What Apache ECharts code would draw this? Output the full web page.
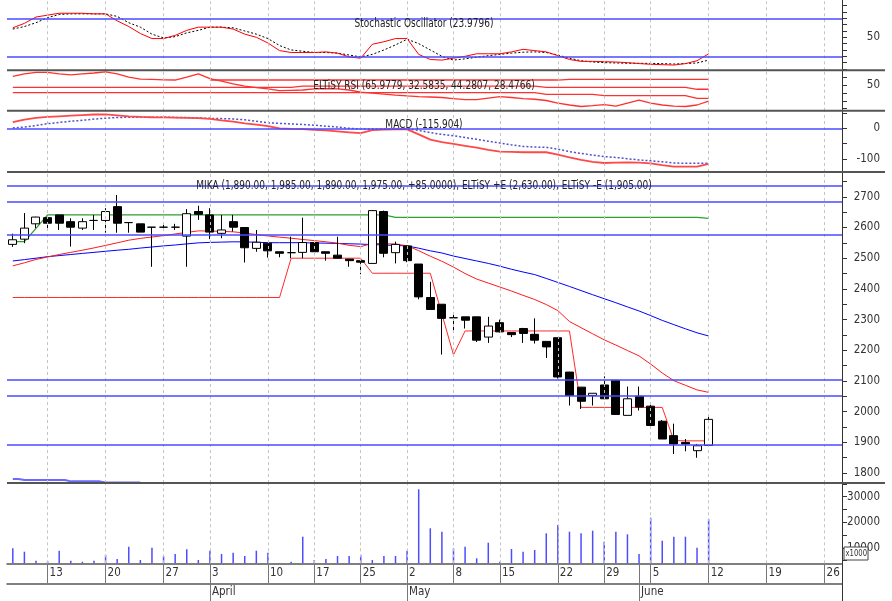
<!DOCTYPE html>
<html><head><meta charset="utf-8">
<script src="https://cdn.jsdelivr.net/npm/echarts@6/dist/echarts.min.js"></script>
<style>html,body{margin:0;padding:0;background:#fff}#c{width:892px;height:601px}</style>
</head><body><div id="c"></div><script>
// ---------------- DATA ----------------
const tradingDays = [
 '2017-03-08','2017-03-09','2017-03-10','2017-03-13','2017-03-14','2017-03-15','2017-03-16','2017-03-17',
 '2017-03-20','2017-03-21','2017-03-22','2017-03-23','2017-03-24','2017-03-27','2017-03-29','2017-03-30','2017-03-31',
 '2017-04-03','2017-04-04','2017-04-05','2017-04-06','2017-04-07','2017-04-10','2017-04-11','2017-04-12','2017-04-13',
 '2017-04-17','2017-04-18','2017-04-20','2017-04-21','2017-04-25','2017-04-26','2017-04-27','2017-04-28',
 '2017-05-02','2017-05-03','2017-05-04','2017-05-05','2017-05-08','2017-05-09','2017-05-10','2017-05-12',
 '2017-05-15','2017-05-16','2017-05-17','2017-05-18','2017-05-19','2017-05-22','2017-05-23','2017-05-24','2017-05-26',
 '2017-05-29','2017-05-30','2017-05-31','2017-06-02','2017-06-05','2017-06-06','2017-06-07','2017-06-08','2017-06-09','2017-06-12'
];
const futureDays = ['2017-06-13','2017-06-14','2017-06-15','2017-06-16','2017-06-19','2017-06-20','2017-06-21','2017-06-22','2017-06-23','2017-06-26','2017-06-27'];
const monthNames = ['January','February','March','April','May','June','July','August','September','October','November','December'];

const openP  = [2545,2562,2612,2632,2641,2619,2598,2623,2623,2668,2616,2612,2601,2601,2601,2572,2652,2641,2581,2619,2600,2532,2549,2521,2518,2519,2551,2521,2510,2497,2492,2483,2652,2518,2540,2481,2372,2350,2306,2309,2309,2243,2290,2258,2271,2252,2229,2241,2129,2080,2053,2087,2102,1988,2050,2018,1969,1922,1900,1873,1890];
const closeP = [2560,2598,2634,2614,2614,2601,2619,2623,2652,2614,2616,2585,2601,2601,2601,2645,2643,2585,2592,2601,2534,2552,2524,2516,2518,2551,2521,2516,2500,2492,2487,2655,2516,2545,2492,2374,2333,2304,2306,2298,2233,2279,2260,2251,2255,2233,2211,2113,2053,2034,2060,2042,1991,2042,2015,1955,1911,1895,1895,1889,1975];
const lowP   = [2537,2549,2598,2598,2592,2538,2592,2592,2583,2583,2583,2585,2472,2592,2592,2472,2625,2562,2565,2587,2486,2521,2502,2503,2500,2500,2510,2492,2500,2472,2448,2483,2503,2483,2487,2366,2333,2186,2260,2271,2227,2224,2258,2243,2224,2222,2175,2108,2020,2009,2020,2042,1991,1988,2004,1955,1911,1862,1871,1850,1890];
const highP  = [2580,2647,2635,2635,2641,2630,2630,2641,2663,2706,2617,2612,2601,2612,2612,2660,2671,2663,2641,2641,2600,2592,2549,2521,2570,2632,2551,2521,2570,2497,2492,2657,2655,2554,2540,2481,2423,2350,2322,2309,2309,2309,2300,2258,2273,2304,2229,2241,2130,2080,2060,2115,2102,2082,2082,2031,1973,1961,1911,1895,1985];

const maLong  = [2491,2495.4,2500,2505,2508.5,2512,2515.6,2519,2522.6,2526,2529,2533,2536.5,2540,2543,2546.6,2550,2551.5,2552.4,2553.4,2553,2552,2550.5,2550.5,2550.5,2550.5,2549.5,2549,2548,2547,2546,2544.3,2543,2541.5,2540,2532.6,2524,2517,2507,2499,2491,2483,2474,2464,2455,2446.6,2434,2421,2408,2394.5,2381,2368,2355,2341.4,2328,2313,2297.4,2283.6,2270,2257,2246.6];
const maShort = [2475,2485,2496,2504,2512,2519,2526,2533.5,2541.7,2550,2558.6,2564.5,2569,2573.6,2579,2584,2589,2588.6,2587.3,2586,2582,2577,2572.3,2568.7,2565,2561,2557.3,2553.4,2549,2542,2537.8,2548,2547,2546,2540.6,2524.4,2506.5,2490,2471,2450,2432,2419,2406,2393,2379,2365.5,2349,2329.3,2293.7,2273.6,2253.7,2234,2217,2199.3,2181.8,2155,2126,2101,2086,2071,2063];
const eltisyUpper = [2554,2554,2597,2641,2641,2641,2641,2641,2641,2641,2641,2641,2641,2641,2641,2641,2641,2641,2641,2641,2641,2641,2641,2641,2641,2641,2641,2641,2641,2641,2641,2641,2641,2633,2633,2633,2633,2633,2633,2633,2633,2633,2633,2633,2633,2633,2633,2633,2633,2633,2633,2633,2633,2633,2633,2633,2633,2633,2633,2633,2630];
const eltisyLower = [2372,2372,2372,2372,2372,2372,2372,2372,2372,2372,2372,2372,2372,2372,2372,2372,2372,2372,2372,2372,2372,2372,2372,2372,2500,2500,2500,2500,2500,2500,2500,2451,2451,2451,2451,2451,2451,2318,2185,2263,2263,2263,2263,2263,2263,2263,2263,2263,2263,2014,2014,2014,2014,2014,2014,2014,2014,1906,1905,1905,1905];
const lowBand = [1781,1777.5,1777.5,1777.5,1777.5,1773,1773,1773,1769,1769,1769,1769];
const priceLevels = [2737,2685,2576,2104,2053,1892];

const stochK = [65,72,82,85,88,88,88,87,87,76,67,56,48,48,53,61,66,66,66,63,55,50,41,29,26,26,26,27,25,19,17,39,43,48,48,23,15,14,17,20,24,24,24,27,31,29,27,21,15,12,12,11.5,11,10,8.5,7.4,6.8,6.2,8.5,13,23.98];
const stochD = [63,67,73,81,86,87,87,87,87,83,73,66,55,49,51,57,61,66,66,65,60,55,48,37,30,28,26,26,25,22,19,23,30,38,47,40,30,20,14,16,18.5,21,23,25,26.5,27,26,22,17,13,11,10,9.5,9,9,8.8,8.5,7.8,8.5,9.5,14];
const stochLevels = [80,20];

const rsi1 = [61,64,66,66,64,62.7,64,65.2,66.5,64,60,57.5,57,56.5,56.3,60,64,58,55,51.3,48.7,46.6,45,42.8,43.3,43.7,45,45.5,45.2,43.7,41,39.7,38.5,37.3,36.3,35.4,34.8,34.2,32.9,31.6,31.6,33.5,35.2,34.2,32.9,32,30.4,27.2,24.7,22.8,24,25.3,23.4,27.2,31,27.2,24.7,23.4,22.8,24.7,29.7];
const rsi2 = [null,null,null,null,null,null,null,null,null,null,null,null,null,null,null,null,null,56.3,56.3,56.3,56.3,56.3,56.3,56.3,56.3,56.3,56.3,56.3,56.3,56.3,56.3,56.3,56.3,56.3,56.3,56.3,56.3,56.3,56.3,56.3,56.3,56.3,56.3,56.3,56.3,56.3,56.3,56.3,57.2,57.2,57.2,57.2,57.2,57.2,57.2,57.2,57.2,57.2,57.2,57.2,57.2];
const rsi3 = [47.1,47.1,47.1,47.1,47.1,47.1,47.1,47.1,47.1,47.1,47.1,47.1,47.1,47.1,47.1,47.1,47.1,47.1,47.1,47.1,47.1,47.1,47.1,47.1,47.1,48.7,48.7,48.7,48.7,48.7,48.7,48.7,48.7,48.7,48.7,48.7,48.7,48.7,48.7,48.7,48.7,48.7,48.7,48.7,48.7,48.7,47.1,47.1,47.1,47.1,47.1,47.1,47.1,47.1,47.1,47.1,47.1,47.1,47.1,44.6,44.6];
const rsi4 = [40.3,40.3,40.3,40.3,40.3,40.3,40.3,40.3,40.3,40.3,40.3,40.3,40.3,40.3,40.3,40.3,40.3,40.3,40.3,40.3,40.3,40.3,40.3,40.3,40.3,40.3,40.3,40.3,40.3,40.3,40.3,40.3,40.3,40.3,40.3,40.3,40.3,40.3,40.3,40.3,40.3,40.3,40.3,40.3,40.3,40.3,38.2,38.2,38.2,38.2,38.2,36.5,36.5,36.5,36.5,36.5,36.5,36.5,36.5,33.2,33.2];

const macd   = [20,28,34,37,39,41,43,45,45,42,39,37,36,35.5,35,34,33,31,26,21.5,16,12,7,0,-2,-3,-5,-7,-10,-13,-16,-6,-4,-3.5,-3.3,-20,-37,-45,-51,-57,-63,-70,-76,-77,-78,-78,-78,-86,-95,-103,-109,-113,-112,-111,-112,-114,-120,-125,-125,-125,-115.9];
const signal = [1,4,9,15,19,23,26,30,33,35,36,36,36,36,35.5,35,33.5,32.5,31.5,30.5,28,23,18,16,14,12.5,10,7,4,0,-2,-2.3,-2.3,-2.3,-2.3,-7,-14,-20,-24,-30,-36,-42,-48,-54,-59,-61,-62,-68,-76,-82,-87,-92,-95,-99,-103,-106,-109,-113,-114,-114,-114];

const volume = [9840,8520,5000,4880,8900,5000,4600,5000,7230,5660,10470,5270,10080,6840,7620,9450,5270,8900,7620,8130,6840,8900,8130,3000,4600,14380,5270,5660,6840,6840,7230,5270,6840,6840,8900,32900,17660,16330,9840,10470,5940,12030,4600,9570,8520,9180,15700,18950,16330,15700,16720,12420,16330,15310,7620,21800,12810,14380,14380,10080,21290];

const titles = {
  stoch: 'Stochastic Oscillator (23.9796)',
  rsi: 'ELTiSY RSI (65.9779, 32.5835, 44.2807, 28.4766)',
  macd: 'MACD (-115.904)',
  price: 'MIKA (1,890.00, 1,985.00, 1,890.00, 1,975.00, +85.0000), ELTiSY +E (2,630.00), ELTiSY -E (1,905.00)'
};

// ---------------- LAYOUT ----------------
const FONT = '"Liberation Sans Narrow","Arial Narrow","DejaVu Sans Condensed",sans-serif';
const categories = tradingDays.concat(futureDays);
const DAY = 86400000;
const parse = s => { const [y,m,d] = s.split('-').map(Number); return Date.UTC(y,m-1,d); };
const weekKey = t => t - ((new Date(t).getUTCDay() + 6) % 7) * DAY;
const weekStart = categories.map((s,i) => i > 0 && weekKey(parse(s)) !== weekKey(parse(categories[i-1])));
const monthStart = categories.map((s,i) => i > 0 && s.slice(5,7) !== categories[i-1].slice(5,7));

const L = 7, R = 50;
const panels = [ // [top, bottom] in px
  [0, 70.3], [70.3, 110.7], [110.7, 172], [172, 483], [483, 563.3]
];
const yRanges = [[-2.1,108.9],[17.5,68.6],[-142.3,57.3],[1767.7,2780.8],[3984,35350]];
const yTicks = [
  [0,10,20,30,40,50,60,70,80,90,100],
  [20,30,40,50,60],
  [-100,-50,0,50],
  [1800,1850,1900,1950,2000,2050,2100,2150,2200,2250,2300,2350,2400,2450,2500,2550,2600,2650,2700,2750],
  [5000,10000,15000,20000,25000,30000,35000]
];
const yLabels = [[50],[50],[-100,0],[1800,1900,2000,2100,2200,2300,2400,2500,2600,2700],[10000,20000,30000]];

const grids = panels.map(p => ({left:L, right:R, top:p[0], height:p[1]-p[0], show:false}));
const xAxes = panels.map((p,i) => ({
  type:'category', gridIndex:i, data:categories, boundaryGap:true,
  show: i === 4,
  axisLine:{show:true, onZero:false, lineStyle:{color:'#555', width:1.5}},
  axisTick:{show:true, alignWithLabel:true, length:20, interval:(idx)=>weekStart[idx]||monthStart[idx], lineStyle:{color:'#777'}},
  axisLabel:{show:true, interval:(idx)=>weekStart[idx], formatter:(v)=>String(parseInt(v.slice(8),10)),
    align:'left', padding:[0,0,0,2], margin:4, color:'#333', fontSize:11.5, fontFamily:FONT},
  splitLine:{show:false}
}));
xAxes.push({
  type:'category', gridIndex:4, data:categories, boundaryGap:true, position:'bottom', offset:20,
  axisLine:{show:true, onZero:false, lineStyle:{color:'#555', width:1.5}},
  axisTick:{show:true, alignWithLabel:true, length:18, interval:(idx)=>monthStart[idx], lineStyle:{color:'#777'}},
  axisLabel:{show:true, interval:(idx)=>monthStart[idx], formatter:(v)=>monthNames[parseInt(v.slice(5,7),10)-1],
    align:'left', padding:[0,0,0,2], margin:3, color:'#333', fontSize:11.5, fontFamily:FONT},
  splitLine:{show:false}
});
const yAxes = panels.map((p,i) => ({
  type:'value', gridIndex:i, position:'right', min:yRanges[i][0], max:yRanges[i][1], scale:true,
  axisLine:{show:true, lineStyle:{color:'#333', width:1}},
  axisTick:{show:true, customValues:yTicks[i], length:5, lineStyle:{color:'#333'}},
  axisLabel:{show:true, customValues:yLabels[i], formatter:(v)=>String(v), align:'right', margin:38,
    color:'#333', fontSize:11.5, fontFamily:FONT},
  splitLine:{show:false}
}));

const vlines = categories.map((c,i)=>i).filter(i=>weekStart[i]).map(i => ({xAxis:i}));
function decor(gi, hlines){
  const data = vlines.map(d => ({xAxis:d.xAxis, lineStyle:{color:'#c4c4c4', type:[3,3], width:1}}));
  (hlines||[]).forEach(v => data.push({yAxis:v, lineStyle:{color:'#4a4aff', type:'solid', width:1.6}}));
  return {type:'line', xAxisIndex:gi, yAxisIndex:gi, data:[], z:1, silent:true,
    markLine:{silent:true, symbol:['none','none'], label:{show:false}, animation:false, data}};
}
function line(gi, data, color, width, type, extra){
  return Object.assign({type:'line', xAxisIndex:gi, yAxisIndex:gi, data, symbol:'none', showSymbol:false,
    silent:true, z:3, lineStyle:{color, width, type:type||'solid'}}, extra||{});
}

const series = [
  decor(0, stochLevels),
  line(0, stochD, '#000', 1, [2,2]),
  line(0, stochK, '#ff0000', 1),
  decor(1),
  line(1, rsi4, '#ff3030', 1.3),
  line(1, rsi3, '#ff3030', 1.3),
  line(1, rsi2, '#ff3030', 1.3),
  line(1, rsi1, '#ff3030', 1.3),
  decor(2, [0]),
  line(2, signal, '#5050c8', 1.5, [2,2]),
  line(2, macd, '#ff4848', 1.8),
  decor(3, priceLevels),
  line(3, lowBand, '#6a6aff', 2, 'solid', {step:'middle'}),
  line(3, maLong, '#0000ff', 1),
  line(3, maShort, '#ff1a1a', 1),
  line(3, eltisyUpper, '#2ea02e', 1.3),
  line(3, eltisyLower, '#ff2a2a', 1),
  {type:'candlestick', xAxisIndex:3, yAxisIndex:3, barWidth:8.5, z:4, silent:true,
    data: tradingDays.map((d,i)=>[openP[i], closeP[i], lowP[i], highP[i]]),
    itemStyle:{color:'#ffffff', color0:'#000000', borderColor:'#000000', borderColor0:'#000000', borderWidth:1}},
  decor(4),
  {type:'bar', xAxisIndex:4, yAxisIndex:4, data:volume, barWidth:1.5, z:3, silent:true,
    itemStyle:{color:'#4d4dff'}}
];

const graphic = [];
[[panels[0][1]],[panels[1][1]],[panels[2][1]],[panels[3][1]]].forEach(([y]) => {
  graphic.push({type:'line', z:50, shape:{x1:L, y1:y, x2:885, y2:y}, style:{stroke:'#555', lineWidth:2}});
});
graphic.push({type:'line', z:50, shape:{x1:892-R+0.5, y1:panels[4][1], x2:892-R+0.5, y2:601}, style:{stroke:'#333', lineWidth:1}});
const tstyle = (text) => ({text, font:'12.5px ' + FONT, fill:'#222', align:'center', verticalAlign:'middle'});
const titleAt = (x, y, text) => ({type:'text', z:60, x, y, scaleX:0.8, scaleY:1, style:tstyle(text)});
graphic.push(titleAt(424, 24, titles.stoch));
graphic.push(titleAt(424, 86, titles.rsi));
graphic.push(titleAt(424, 125, titles.macd));
graphic.push(titleAt(424, 186, titles.price));
graphic.push({type:'rect', z:70, shape:{x:844, y:547, width:24, height:13}, style:{fill:'#fff', stroke:'#444', lineWidth:1}});
graphic.push({type:'text', z:71, x:845.5, y:553.5, scaleX:0.85, style:{text:'x1000', font:'9px ' + FONT, fill:'#333', verticalAlign:'middle'}});

const chart = echarts.init(document.getElementById('c'), null, {renderer:'canvas'});
chart.setOption({animation:false, backgroundColor:'#fff', grid:grids, xAxis:xAxes, yAxis:yAxes, series, graphic});
</script></body></html>
